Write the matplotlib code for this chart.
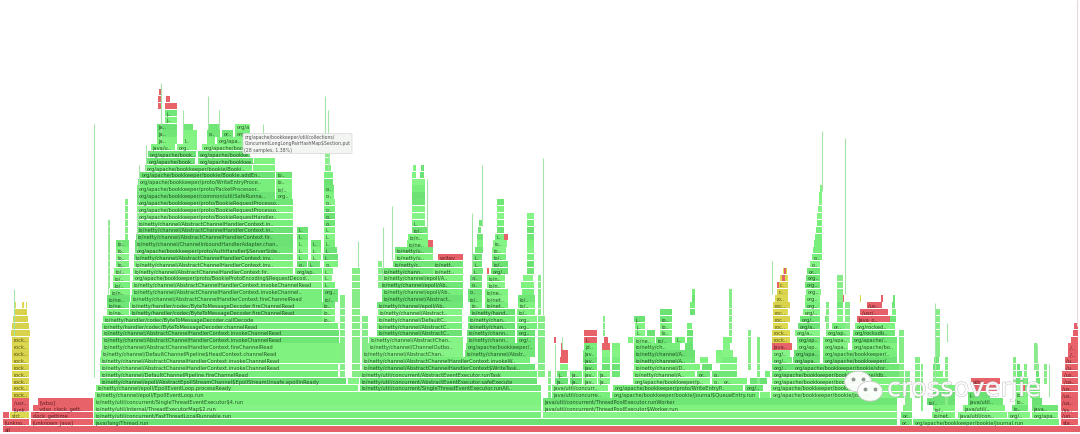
import matplotlib
matplotlib.use('Agg')
import matplotlib.pyplot as plt
import matplotlib.patheffects as pe
from matplotlib.patches import Ellipse, FancyBboxPatch

NET = 'io/netty/channel/'
CTX = 'io/netty/channel/AbstractChannelHandlerContext.'
BK = 'org/apache/bookkeeper/'

# frames: (level, start, end, label)
red_frames = [
    (0, 3, 1080, 'all'), (1, 3, 29, '[unkno..'), (1, 31, 93, '[unknown_Java]'), (1, 1061, 1078, 'sta..'),
    (2, 3, 9, ''), (2, 31, 93, 'clock_gettime'), (2, 1061, 1078, '/un..'),
    (3, 12, 29, '[unk..'), (3, 33, 93, '__vdso_clock_gett..'), (3, 1061, 1078, '/ss..'),
    (4, 12, 29, '/usr..'), (4, 38, 93, '[vdso]'), (4, 1061, 1078, '/us..'),
    (5, 1061, 1078, '/us..'), (6, 1061, 1078, '/us..'), (7, 1062, 1078, '/us..'), (8, 1062, 1078, '/us..'),
    (9, 1065, 1078, '/u..'), (10, 1065, 1078, '/u..'), (11, 1068, 1078, '/..'), (12, 1068, 1078, '/..'),
    (13, 1071, 1078, ''), (14, 1073, 1078, ''), (15, 1074, 1078, ''),
    (25, 438, 463, 'writev'), (27, 428, 433, ''), (28, 504, 508, ''), (23, 487, 489, ''),
    (47, 165, 177, ''), (48, 166, 170, ''), (47, 158, 162, ''), (48, 158, 162, ''), (49, 159, 162, ''),
    (10, 560, 568, ''), (11, 561, 568, ''), (12, 561, 563, ''), (12, 602, 610, ''), (13, 604, 608, ''),
    (13, 584, 597, 'j..'), (14, 584, 597, ''), (13, 554, 556, ''),
    (12, 772, 792, 'Java..'), (16, 857, 890, 'Java_o..'), (17, 860, 888, '/usr/..'), (18, 867, 882, '/us..'),
    (6, 973, 997, ''), (7, 971, 1000, 'pthr..'), (6, 1022, 1025, ''), (8, 907, 910, ''),
    (21, 777, 779, ''), (22, 782, 785, ''), (23, 784, 786, ''), (19, 881, 883, ''), (19, 842, 844, ''),
]

yellow_frames = [
    (2, 10, 29, 'std:..'), (5, 12, 29, 'rock..'), (6, 12, 29, 'rock..'), (7, 12, 29, 'rock..'), (8, 12, 29, 'rock..'),
    (9, 12, 29, 'rock..'), (10, 12, 29, 'rock..'), (11, 12, 29, 'rock..'), (12, 12, 29, 'rock..'), (13, 12, 29, 'rock..'),
    (14, 11, 30, ''), (15, 12, 29, ''), (16, 13, 28, ''), (17, 14, 27, ''),
    (18, 14, 16, ''), (18, 22, 24, ''), (18, 26, 27, ''),
    (13, 772, 790, 'rock..'), (14, 772, 790, 'rock..'), (15, 773, 788, 'roc..'), (16, 773, 790, 'roc..'),
    (17, 773, 788, 'roc..'), (18, 773, 790, 'roc..'), (19, 775, 788, 'ro..'), (20, 777, 788, 'r..'),
    (21, 778, 788, 'r..'), (22, 780, 788, ''), (23, 783, 787, ''), (19, 860, 861, ''),
]

base_frames = [
    (1, 94, 897, 'java/lang/Thread.run'), (1, 900, 912, 'or..'), (1, 913, 1059, BK + 'bookie/Journal.run'),
    (2, 94, 541, 'io/netty/util/concurrent/FastThreadLocalRunnable.run'), (2, 543, 897, ''),
    (2, 901, 912, 'or..'), (2, 932, 955, 'io/net..'), (2, 958, 1007, 'java/util/con..'),
    (2, 1008, 1030, 'org/..'), (2, 1032, 1058, 'org/apa..'),
    (3, 94, 541, 'io/netty/util/internal/ThreadExecutorMap$2.run'),
    (3, 543, 897, 'java/util/concurrent/ThreadPoolExecutor$Worker.run'),
    (3, 903, 912, ''), (3, 933, 955, 'io/..'), (3, 963, 1005, 'java/util/..'), (3, 1012, 1028, 'io..'), (3, 1032, 1058, 'java..'),
    (4, 94, 541, 'io/netty/util/concurrent/SingleThreadEventExecutor$4.run'),
    (4, 543, 897, 'java/util/concurrent/ThreadPoolExecutor.runWorker'),
    (4, 927, 955, 'io/..'), (4, 968, 1003, 'java/util..'), (4, 1015, 1028, 'io..'), (4, 1032, 1042, ''),
    (5, 95, 541, NET + 'epoll/EpollEventLoop.run'), (5, 552, 610, 'java/util/concurre..'),
    (5, 612, 759, BK + 'bookie/Journal$QueueEntry.run'), (5, 760, 770, ''),
    (5, 771, 900, BK + 'bookie/Journal..'), (5, 933, 955, ''), (5, 968, 990, 'j..'), (5, 1015, 1028, 'io..'),
    (6, 96, 358, NET + 'epoll/EpollEventLoop.processReady'),
    (6, 360, 541, 'io/netty/util/concurrent/SingleThreadEventExecutor.runAll..'),
    (6, 552, 608, 'java/util/concurr..'), (6, 613, 743, BK + 'proto/WriteEntryP..'),
    (6, 745, 763, 'org/..'), (6, 771, 900, BK + 'bookie/..'), (6, 933, 955, ''), (6, 1015, 1028, ''),
    (7, 100, 346, NET + 'epoll/AbstractEpollStreamChannel$EpollStreamUnsafe.epollInReady'), (7, 348, 359, ''),
    (7, 360, 537, 'io/netty/util/concurrent/AbstractEventExecutor.safeExecute'),
    (7, 555, 568, 'ja..'), (7, 570, 582, 'ja..'), (7, 583, 597, 'jav..'), (7, 598, 610, 'ja..'),
    (7, 633, 710, BK + 'p..'), (7, 712, 722, 'or..'), (7, 722, 747, 'or..'), (7, 750, 767, ''),
    (7, 772, 900, BK + 'bookie/ldb..'), (7, 933, 947, ''), (7, 1015, 1028, ''),
]

main_frames = [
    (8, 100, 338, NET + 'DefaultChannelPipeline.fireChannelRead'),
    (9, 100, 338, CTX + 'invokeChannelRead'), (10, 100, 340, CTX + 'invokeChannelRead'),
    (11, 101, 340, NET + 'DefaultChannelPipeline$HeadContext.channelRead'),
    (12, 102, 340, CTX + 'fireChannelRead'), (13, 102, 339, CTX + 'invokeChannelRead'),
    (14, 102, 339, CTX + 'invokeChannelRead'), (15, 102, 338, 'io/netty/handler/codec/ByteToMessageDecoder.channelRead'),
    (16, 103, 322, 'io/netty/handler/codec/ByteToMessageDecoder.callDecode'), (16, 322, 335, 'io/..'),
    (17, 107, 129, 'io/ne..'), (17, 130, 322, 'io/netty/handler/codec/ByteToMessageDecoder.fireChannelRead'), (17, 322, 335, 'io/..'),
    (18, 107, 129, 'io/ne..'), (18, 130, 322, 'io/netty/handler/codec/ByteToMessageDecoder.fireChannelRead'), (18, 322, 335, 'io/..'),
    (19, 107, 130, 'io/ne..'), (19, 131, 322, CTX + 'fireChannelRead'), (19, 323, 338, 'io/..'),
    (20, 110, 130, 'io/n..'), (20, 132, 322, CTX + 'invokeChannel..'), (20, 323, 338, 'org..'),
    (21, 113, 130, 'io/..'), (21, 132, 322, CTX + 'invokeChannelRead'), (21, 323, 335, 'i..'),
    (22, 113, 130, 'io/..'), (22, 133, 322, BK + 'proto/BookieProtoEncoding$RequestDecod..'), (22, 323, 332, 'i..'),
    (23, 114, 130, 'io/..'), (23, 133, 293, CTX + 'fir..'), (23, 295, 322, 'org/ap..'), (23, 323, 333, 'i..'),
    (24, 116, 129, 'io..'), (24, 134, 293, CTX + 'inv..'), (24, 297, 307, 'o..'), (24, 308, 320, 'i..'), (24, 324, 338, 'o..'),
    (25, 116, 129, 'io..'), (25, 134, 293, CTX + 'inv..'), (25, 297, 308, 'i..'), (25, 311, 321, 'i..'), (25, 323, 338, 'i..'),
    (26, 116, 129, 'io..'), (26, 135, 293, BK + 'proto/AuthHandler$ServerSide..'), (26, 297, 308, 'i..'), (26, 311, 321, 'i..'), (26, 324, 337, 'i..'),
    (27, 116, 129, 'io..'), (27, 135, 293, NET + 'ChannelInboundHandlerAdapter.chan..'), (27, 297, 308, 'i..'), (27, 311, 321, 'i..'), (27, 324, 335, 'i..'),
    (28, 136, 293, CTX + 'fir..'), (28, 297, 308, 'i..'), (28, 324, 335, 'i..'),
    (29, 137, 293, CTX + 'in..'), (29, 297, 308, 'i..'), (29, 324, 335, 'i..'),
    (30, 137, 293, CTX + 'in..'), (30, 324, 335, 'o..'),
    (31, 137, 293, BK + 'proto/BookieRequestHandler..'), (31, 324, 335, 'o..'),
    (32, 137, 293, BK + 'proto/BookieRequestProcesso..'), (32, 324, 335, 'o..'),
    (33, 137, 293, BK + 'proto/BookieRequestProcesso..'), (33, 324, 335, 'o..'),
    (34, 137, 275, BK + 'common/util/SafeRunna..'), (34, 276, 292, 'org..'), (34, 324, 334, 'o..'),
    (35, 137, 275, BK + 'proto/PacketProcessor..'), (35, 276, 292, 'io/..'), (35, 324, 334, 'o..'),
    (36, 138, 275, BK + 'proto/WriteEntryProce..'), (36, 276, 292, 'io..'), (36, 324, 333, ''),
    (37, 140, 275, BK + 'bookie/Bookie.addEn..'), (37, 276, 292, 'io..'), (37, 324, 333, ''),
    (38, 145, 252, BK + 'bookie/Booki..'), (38, 253, 275, ''), (38, 325, 331, ''),
    (39, 147, 195, BK + 'boo..'), (39, 198, 253, BK + 'book..'), (39, 254, 275, ''), (39, 325, 330, ''),
    (40, 148, 196, BK + 'boo..'), (40, 198, 250, BK + 'book..'), (40, 325, 330, ''),
    (41, 151, 175, 'java/u..'), (41, 177, 197, 'org..'), (41, 202, 247, BK + 'bo..'),
    (42, 157, 177, 'ja..'), (42, 183, 197, 'l..'), (42, 207, 215, 'o..'), (42, 217, 243, 'org/apac..'),
    (43, 157, 177, 'ja..'), (43, 183, 197, ''), (43, 207, 220, 'o..'), (43, 222, 233, 'or..'), (43, 235, 250, 'org..'),
    (44, 157, 177, 'ja..'), (44, 183, 193, ''), (44, 208, 220, ''), (44, 235, 250, 'org/a'),
    (45, 165, 177, 'j..'), (46, 165, 177, 'j..'),
]

# the columns right of the main stack
middle_frames = [
    (8, 360, 537, 'io/netty/util/concurrent/AbstractEventExecutor.runTask'),
    (9, 362, 535, CTX[:-1] + '$WriteTask..'), (10, 362, 530, CTX + 'invokeW..'),
    (11, 362, 463, NET + 'AbstractChan..'), (11, 465, 535, NET + 'Abstr..'),
    (12, 368, 463, NET + 'ChannelOutbo..'), (12, 466, 535, BK + '..'),
    (13, 369, 463, NET + 'AbstractChan..'), (13, 467, 515, 'io/netty/chann..'), (13, 517, 535, 'org/a..'),
    (14, 377, 462, NET + 'AbstractC..'), (14, 467, 515, 'io/netty/chann..'), (14, 517, 535, 'org..'),
    (15, 377, 462, NET + 'AbstractC..'), (15, 468, 515, 'io/netty/chan..'), (15, 517, 537, 'org..'),
    (16, 377, 462, NET + 'DefaultC..'), (16, 468, 515, 'io/netty/chan..'), (16, 517, 537, 'org..'),
    (17, 378, 462, NET + 'Abstract..'), (17, 470, 515, 'io/netty/hand..'), (17, 517, 535, 'io/..'),
    (18, 377, 463, NET + 'epoll/Ab..'), (18, 470, 482, 'io/..'), (18, 485, 508, 'io/net..'), (18, 518, 535, 'io/..'),
    (19, 382, 463, NET + 'Abstract..'), (19, 468, 482, 'io/..'), (19, 485, 508, 'io/net..'), (19, 518, 535, 'io/..'),
    (20, 382, 463, NET + 'epoll/Ab..'), (20, 468, 482, 'o..'), (20, 485, 508, 'io/ne..'), (20, 522, 534, ''),
    (21, 380, 463, NET + 'epoll/Ab..'), (21, 470, 482, 'o..'), (21, 487, 505, 'io/ne..'), (21, 521, 534, ''),
    (22, 382, 463, NET + 'epoll/A..'), (22, 470, 482, 'o..'), (22, 487, 505, 'io/ne..'), (22, 523, 533, ''),
    (23, 382, 433, 'io/netty/chann..'), (23, 433, 463, 'io/nett..'), (23, 472, 483, 'i..'), (23, 491, 508, 'org/..'), (23, 527, 534, ''),
    (24, 393, 433, 'io/netty/c..'), (24, 433, 463, 'io/nett..'), (24, 473, 482, 'i..'), (24, 492, 508, 'io/..'), (24, 527, 534, ''),
    (25, 395, 433, 'io/netty/u..'), (25, 473, 482, 'i..'), (25, 492, 506, 'io/..'), (25, 527, 534, ''),
    (26, 395, 433, 'io/netty/u..'), (26, 475, 483, ''), (26, 492, 506, 'io..'), (26, 527, 534, ''),
    (27, 407, 428, 'io/ne..'), (27, 477, 483, ''), (27, 493, 507, 'io..'), (27, 527, 534, ''),
    (28, 408, 428, 'io/n..'), (28, 477, 483, ''), (28, 495, 504, 'i..'), (28, 527, 534, ''),
    (29, 412, 428, 'io/..'), (29, 478, 481, ''), (29, 497, 504, ''), (29, 527, 534, ''),
    (30, 412, 425, 'i..'), (30, 479, 483, ''), (30, 497, 504, ''), (30, 527, 534, ''),
    (31, 412, 425, ''), (31, 497, 504, ''), (31, 527, 534, ''),
    (32, 412, 425, ''), (32, 497, 504, ''), (33, 412, 425, ''), (33, 497, 504, ''),
    (34, 412, 425, ''), (35, 412, 425, ''), (36, 412, 425, ''), (37, 412, 416, ''), (37, 420, 424, ''),
    (38, 413, 416, ''), (38, 421, 424, ''),
]

right_frames = [
    (8, 557, 567, 'j..'), (8, 570, 582, 'ja..'), (8, 583, 597, 'jav..'), (8, 598, 610, 'ja..'), (8, 612, 620, ''),
    (8, 633, 695, 'io/netty/channel/A..'), (8, 697, 710, 'org..'), (8, 712, 722, 'or..'), (8, 722, 737, ''),
    (8, 772, 900, BK + 'bookie/storage/ldb..'), (8, 765, 770, ''),
    (9, 560, 568, ''), (9, 583, 597, 'jav..'), (9, 602, 610, 'ja..'), (9, 612, 620, ''), (9, 634, 700, 'io/netty/channel/D..'), (9, 702, 712, ''),
    (9, 720, 737, ''), (9, 772, 793, 'org/..'), (9, 793, 900, BK + 'bookie/stor..'),
    (10, 583, 597, 'jav..'), (10, 602, 610, 'j..'), (10, 612, 620, ''), (10, 634, 695, 'io/netty/channel/A..'), (10, 700, 708, ''),
    (10, 716, 722, ''), (10, 722, 737, ''), (10, 772, 792, 'org/..'), (10, 793, 820, 'org/apa..'), (10, 823, 897, BK + '..'),
    (11, 583, 597, 'jav..'), (11, 602, 610, 'j..'), (11, 612, 620, ''), (11, 634, 695, 'io/netty/channel/A..'), (11, 716, 722, ''),
    (11, 722, 733, ''), (11, 772, 790, 'org/..'), (11, 794, 820, 'org/apa..'), (11, 823, 897, BK + '..'),
    (12, 584, 597, 'jd..'), (12, 612, 620, ''), (12, 634, 680, 'io/netty/ch..'), (12, 685, 693, 'i..'),
    (12, 723, 730, ''), (12, 797, 820, 'org/ap..'), (12, 823, 848, 'org/apa..'), (12, 852, 897, 'org/apache/bo..'),
    (13, 628, 633, ''), (13, 634, 655, 'io/ne..'), (13, 656, 672, 'io/n..'), (13, 675, 685, 'l..'), (13, 687, 693, 'i..'),
    (13, 723, 732, ''), (13, 797, 820, 'org/ap..'), (13, 823, 848, 'org/apa..'), (13, 852, 897, 'org/apache/..'),
    (14, 635, 645, 'i..'), (14, 647, 655, 'l..'), (14, 660, 672, 'lo/..'), (14, 687, 693, 'i..'),
    (14, 795, 820, 'org/a..'), (14, 826, 848, 'org/ap..'), (14, 853, 895, 'org/rocksdb..'),
    (15, 635, 645, 'j..'), (15, 660, 672, 'io..'), (15, 687, 692, 'i..'),
    (15, 798, 820, 'org/a..'), (15, 832, 850, 'or..'), (15, 855, 895, 'org/rocked..'),
    (16, 634, 645, 'j..'), (16, 660, 672, 'io..'), (16, 800, 820, 'org/..'), (16, 825, 828, ''), (16, 837, 843, ''), (16, 890, 896, ''),
    (17, 660, 672, ''), (17, 690, 695, ''), (17, 803, 820, 'org/..'), (17, 837, 843, ''), (17, 892, 896, ''),
    (18, 690, 695, ''), (18, 805, 820, 'org/..'), (18, 837, 843, ''), (18, 847, 850, ''), (18, 892, 895, ''),
    (19, 692, 695, ''), (19, 805, 820, 'org/..'), (19, 893, 895, ''), (20, 692, 695, ''), (20, 806, 821, 'org..'),
    (21, 805, 820, 'org..'), (22, 806, 820, 'org..'), (23, 807, 820, 'or..'), (24, 810, 820, 'o..'), (25, 812, 822, 'o..'),
    (26, 813, 822, ''), (27, 814, 822, ''), (28, 815, 822, ''), (29, 816, 822, ''), (30, 817, 822, ''),
    (31, 817, 822, ''), (32, 818, 822, ''), (33, 819, 822, ''), (34, 819, 822, ''), (35, 820, 822, ''),
    (8, 933, 943, ''), (9, 933, 940, ''), (10, 934, 939, ''),
    (5, 1030, 1040, ''), (6, 1030, 1040, ''), (7, 1036, 1040, ''), (8, 1036, 1039, ''), (9, 1036, 1039, ''),
    (5, 1020, 1028, ''), (6, 1017, 1022, ''), (7, 1015, 1028, ''), (8, 1017, 1022, ''), (9, 1017, 1020, ''),
]

# narrow stacks without labels: (start, end, first level, last level)
narrow_stacks = [
    (340, 345, 8, 19), (352, 360, 8, 23), (362, 368, 9, 16), (378, 382, 21, 24),
    (103, 106, 8, 14), (108, 110, 21, 30), (125, 128, 28, 33),
    (538, 541, 8, 22), (540, 545, 8, 16), (548, 551, 5, 8), (603, 605, 14, 16),
    (729, 732, 14, 20), (748, 751, 9, 14), (757, 760, 7, 13), (837, 843, 19, 22),
    (845, 850, 13, 18), (826, 829, 14, 18), (899, 904, 5, 14), (905, 910, 5, 8), (915, 920, 5, 10), (921, 923, 3, 9),
    (905, 912, 3, 4), (936, 940, 11, 17), (945, 948, 4, 10), (1034, 1037, 9, 12),
    (1013, 1016, 7, 10), (1024, 1027, 7, 9), (1044, 1047, 7, 9),
]

# one pixel spikes: (x, first level, last level)
spikes = [
    (94, 8, 44), (14, 14, 20), (137, 23, 31), (121, 23, 27), (108, 20, 30), (139, 30, 38), (146, 38, 41),
    (161, 41, 50), (208, 44, 48), (219, 44, 46), (183, 43, 46), (263, 42, 44), (325, 40, 48), (328, 38, 46),
    (358, 24, 27), (383, 22, 29), (392, 25, 32), (427, 29, 36), (472, 22, 31), (482, 30, 38), (543, 17, 39),
    (822, 35, 43), (845, 20, 42), (935, 7, 18), (947, 13, 15), (1037, 9, 12), (1049, 5, 9),
    (772, 20, 24), (555, 8, 12), (562, 12, 13),
]

tooltip_lines = [
    'org/apache/bookkeeper/util/collections/',
    'ConcurrentLongLongPairHashMap$Section.put',
    '(28 samples, 1.38%)',
]

greens = ['#80f280', '#78ee7c', '#70e676', '#86f386', '#6ce274']
reds = ['#e8626a', '#e56068']
yellows = ['#dcd850', '#d8d24c']


def shade(palette, level, start):
    # same look as the flamegraph, shades change from frame to frame
    return palette[(level * 7 + int(start) * 3) % len(palette)]


def fit_label(label, width):
    # flamegraph cuts the name when the frame is too narrow
    max_chars = int(width / 2.7)
    if len(label) <= max_chars:
        return label
    if max_chars < 3:
        return ''
    return label[:max_chars - 2] + '..'


fig = plt.figure(figsize=(10.8, 4.35), dpi=100)
ax = fig.add_axes([0, 0, 1, 1])
ax.set_xlim(0, 1080)
ax.set_ylim(-0.728, 62.59)
ax.axis('off')


def draw(frames, palette, text_color='#123a12'):
    levels = [f[0] for f in frames]
    starts = [f[1] for f in frames]
    widths = [f[2] - f[1] for f in frames]
    colors = [shade(palette, f[0], f[1]) for f in frames]
    ax.barh(levels, widths, left=starts, height=0.9, color=colors, linewidth=0)
    for level, start, end, label in frames:
        text = fit_label(label, end - start)
        if text:
            ax.text(start + 1.5, level - 0.02, text, fontsize=3.7, color=text_color, alpha=0.85,
                    va='center', ha='left', family='DejaVu Sans')


draw(base_frames + main_frames + middle_frames + right_frames, greens)
draw(yellow_frames, yellows, '#4a4410')
draw(red_frames, reds, '#4a1216')

for start, end, low, high in narrow_stacks:
    levels = list(range(low, high + 1))
    ax.barh(levels, [end - start] * len(levels), left=start, height=0.9, color='#86ec88', linewidth=0)

for x, low, high in spikes:
    ax.plot([x, x], [low - 0.4, high + 0.4], color='#a4e4a6', lw=0.8, solid_capstyle='butt')

# long thin stack at the right edge, pale up to the top
ax.plot([1077, 1077], [15, 62.5], color='#e8d8d8', lw=0.8, solid_capstyle='butt')

# hover box of the svg
box = FancyBboxPatch((243, 40.1), 109, 2.9, boxstyle='round,pad=0,rounding_size=1', mutation_aspect=0.15,
                     fc='#f3f5f3', ec='#d8dcd8', lw=0.6, alpha=0.96, zorder=5)
ax.add_patch(box)
for i, line in enumerate(tooltip_lines):
    ax.text(244.5, 42.55 - i * 0.9, line, fontsize=3.35, color='#555555', va='center', ha='left', zorder=6)

# wechat watermark
bubbles = [(858, 6.9, 27, 3.0), (870, 5.5, 25, 2.9)]
for x, y, w, h in bubbles:
    ax.add_patch(Ellipse((x, y), w, h, fc='white', ec='#c8c8c8', lw=0.6, alpha=0.95, zorder=7))
for x, y in [(853, 7.3), (863, 7.3), (865, 5.8), (875, 5.8)]:
    ax.plot([x], [y], 'o', ms=1.8, color='#8f9a8f', zorder=8)
ax.text(887, 5.8, 'crossoverjie', fontsize=18.5, color='white', alpha=0.85, va='center', ha='left', zorder=8,
        family='DejaVu Sans', path_effects=[pe.withStroke(linewidth=0.7, foreground='#bcbcbc')])

fig.savefig('out.png', dpi=100, facecolor='white')
